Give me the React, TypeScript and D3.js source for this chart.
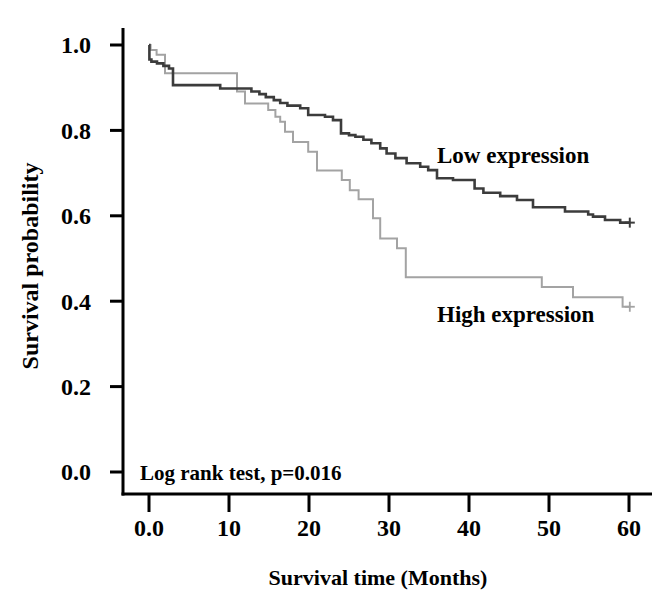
import React from "react";
import * as d3 from "d3";

const lowTimes = [0, 0.05, 0.3, 1.0, 1.8, 2.5, 3.0, 8.9, 12.8, 13.8, 14.6, 15.6, 16.4, 17.3, 18.9, 19.9, 22.0, 23.0, 24.0, 25.0, 25.8, 26.8, 27.8, 28.9, 29.7, 30.8, 32.2, 33.9, 34.9, 36.0, 38.0, 40.7, 41.8, 43.9, 46.0, 48.0, 52.0, 54.9, 55.5, 57.0, 58.9, 60.1];
const lowSurv = [1.0, 0.966, 0.961, 0.957, 0.951, 0.945, 0.906, 0.898, 0.891, 0.885, 0.878, 0.871, 0.864, 0.858, 0.852, 0.836, 0.832, 0.824, 0.793, 0.789, 0.785, 0.778, 0.770, 0.758, 0.746, 0.735, 0.723, 0.715, 0.707, 0.688, 0.684, 0.664, 0.654, 0.646, 0.637, 0.620, 0.610, 0.603, 0.598, 0.590, 0.584, 0.584];

const highTimes = [0, 0.2, 0.95, 2.0, 11.0, 12.0, 14.9, 15.8, 16.4, 17.0, 18.0, 19.9, 21.0, 24.1, 25.1, 26.2, 28.0, 28.9, 31.0, 32.1, 49.1, 53.0, 59.2, 60.1];
const highSurv = [1.0, 0.988, 0.977, 0.934, 0.891, 0.863, 0.848, 0.832, 0.820, 0.797, 0.773, 0.750, 0.706, 0.684, 0.660, 0.639, 0.594, 0.547, 0.524, 0.456, 0.433, 0.409, 0.387, 0.387];

const xTicks = [0, 10, 20, 30, 40, 50, 60];
const xTickLabels = ["0.0", "10", "20", "30", "40", "50", "60"];
const yTicks = [0, 0.2, 0.4, 0.6, 0.8, 1.0];
const yTickLabels = ["0.0", "0.2", "0.4", "0.6", "0.8", "1.0"];

const seriesNames = ["Low expression", "High expression"];
const annotation = "Log rank test, p=0.016";
const xTitle = "Survival time (Months)";
const yTitle = "Survival probability";

const FONT = "'Liberation Serif', 'Times New Roman', serif";

export default function App() {
  const x = d3.scaleLinear().domain([0, 60]).range([149, 629]);
  const y = d3.scaleLinear().domain([0, 1]).range([472, 45]);

  const line = d3
    .line<[number, number]>()
    .x((d) => x(d[0]))
    .y((d) => y(d[1]))
    .curve(d3.curveStepAfter);

  const lowData: [number, number][] = lowTimes.map((t, i) => [t, lowSurv[i]]);
  const highData: [number, number][] = highTimes.map((t, i) => [t, highSurv[i]]);

  const lowEnd = lowData[lowData.length - 1];
  const highEnd = highData[highData.length - 1];

  const axisX0 = 123;
  const axisY0 = 494;

  return (
    <svg
      width={667}
      height={601}
      style={{ position: "absolute", left: 0, top: 0, background: "#fff" }}
      fontFamily={FONT}
      fontWeight="bold"
    >
      <rect x={0} y={0} width={667} height={601} fill="#fff" />
      {/* axes */}
      <line x1={axisX0} y1={28} x2={axisX0} y2={axisY0 + 1.5} stroke="#000" strokeWidth={3} />
      <line x1={axisX0 - 1.5} y1={axisY0} x2={652} y2={axisY0} stroke="#000" strokeWidth={3} />
      {yTicks.map((v, i) => (
        <g key={"y" + i}>
          <line x1={110} x2={axisX0} y1={y(v)} y2={y(v)} stroke="#000" strokeWidth={3} />
          <text x={91} y={y(v)} dy="0.35em" textAnchor="end" fontSize={24}>
            {yTickLabels[i]}
          </text>
        </g>
      ))}
      {xTicks.map((v, i) => (
        <g key={"x" + i}>
          <line x1={x(v)} x2={x(v)} y1={axisY0} y2={512} stroke="#000" strokeWidth={3} />
          <text x={x(v)} y={536} textAnchor="middle" fontSize={24}>
            {xTickLabels[i]}
          </text>
        </g>
      ))}
      {/* curves */}
      <path d={line(highData) || ""} fill="none" stroke="#a3a3a3" strokeWidth={2} />
      <path d={line(lowData) || ""} fill="none" stroke="#3c3c3c" strokeWidth={2.6} />
      {/* censor marks */}
      <g stroke="#3c3c3c" strokeWidth={2}>
        <line x1={x(lowEnd[0]) - 5} x2={x(lowEnd[0]) + 5} y1={y(lowEnd[1])} y2={y(lowEnd[1])} />
        <line x1={x(lowEnd[0])} x2={x(lowEnd[0])} y1={y(lowEnd[1]) - 5} y2={y(lowEnd[1]) + 5} />
      </g>
      <g stroke="#a3a3a3" strokeWidth={1.8}>
        <line x1={x(highEnd[0]) - 5} x2={x(highEnd[0]) + 5} y1={y(highEnd[1])} y2={y(highEnd[1])} />
        <line x1={x(highEnd[0])} x2={x(highEnd[0])} y1={y(highEnd[1]) - 5} y2={y(highEnd[1]) + 5} />
      </g>
      {/* labels */}
      <text x={437} y={163} fontSize={23}>{seriesNames[0]}</text>
      <text x={437} y={322} fontSize={23}>{seriesNames[1]}</text>
      <text x={140} y={480} fontSize={21}>{annotation}</text>
      <text x={378} y={585} textAnchor="middle" fontSize={22}>{xTitle}</text>
      <text
        transform={`translate(38, 266) rotate(-90)`}
        textAnchor="middle"
        fontSize={24}
      >
        {yTitle}
      </text>
    </svg>
  );
}
